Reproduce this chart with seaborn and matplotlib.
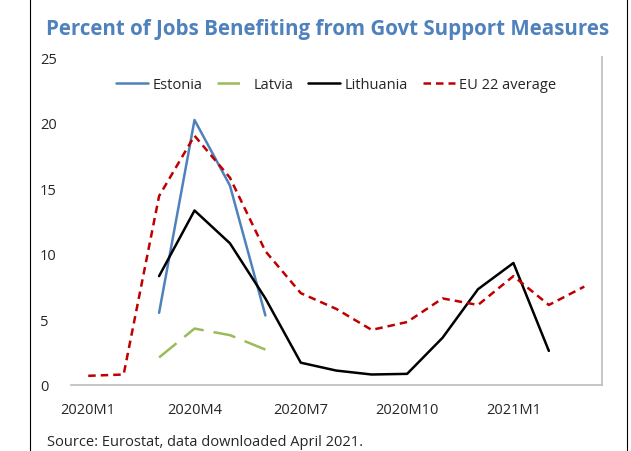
import matplotlib
matplotlib.use("Agg")
import matplotlib.pyplot as plt
import seaborn as sns
import pandas as pd
import numpy as np

months = ["2020M1","2020M2","2020M3","2020M4","2020M5","2020M6","2020M7","2020M8",
          "2020M9","2020M10","2020M11","2020M12","2021M1","2021M2","2021M3"]
estonia = [np.nan, np.nan, 5.5, 20.2, 15.2, 5.3] + [np.nan]*9
latvia = [np.nan, np.nan, 2.1, 4.3, 3.8, 2.7] + [np.nan]*9
lithuania = [np.nan, np.nan, 8.3, 13.3, 10.8, 6.6, 1.7, 1.1, 0.8, 0.85, 3.6, 7.3, 9.3, 2.6, np.nan]
eu22 = [0.7, 0.8, 14.4, 19.0, 15.8, 10.2, 7.0, 5.8, 4.2, 4.8, 6.6, 6.1, 8.3, 6.1, 7.5]

sns.set_theme(style="white")
plt.rcParams['font.family'] = ['Open Sans', 'DejaVu Sans']
fig = plt.figure(figsize=(6.31, 4.52), dpi=100)
ax = fig.add_axes([70.5/631, (452-386)/452, (602-70.5)/631, (386-58)/452])

x = np.arange(len(months))
df = pd.DataFrame({"x": x, "Estonia": estonia, "Latvia": latvia,
                   "Lithuania": lithuania, "EU 22 average": eu22})
sns.lineplot(data=df, x="x", y="Estonia", ax=ax, color="#4f81bd", lw=1.8, label="Estonia")
sns.lineplot(data=df, x="x", y="Latvia", ax=ax, color="#9bbb59", lw=1.8, label="Latvia", linestyle="--")
sns.lineplot(data=df, x="x", y="Lithuania", ax=ax, color="black", lw=1.8, label="Lithuania")
sns.lineplot(data=df, x="x", y="EU 22 average", ax=ax, color="#c00000", lw=1.8, label="EU 22 average", linestyle="--")
ax.lines[1].set_dashes((9, 4))
ax.lines[3].set_dashes((3, 2))

ax.set_xlim(-0.5, len(months) - 0.5)
ax.set_ylim(0, 25)
ax.set_yticks([0, 5, 10, 15, 20, 25])
ax.set_xticks(x[::3])
ax.set_xticklabels(months[::3])
ax.set_xticks(np.arange(2.5, 15, 3), minor=True)
ax.tick_params(axis="x", which="major", length=0, pad=12, labelsize=10.5)
ax.tick_params(axis="x", which="minor", length=5, color="#bfbfbf", direction="in")
ax.tick_params(axis="y", length=0, labelsize=10.5, pad=22)
for lab in ax.get_yticklabels():
    lab.set_horizontalalignment("left")
ax.set_xlabel(""); ax.set_ylabel("")
for s in ax.spines.values():
    s.set_visible(False)
ax.spines["bottom"].set_visible(True)
ax.spines["bottom"].set_color("#bfbfbf")
ax.spines["right"].set_visible(True)
ax.spines["right"].set_color("#bfbfbf")

leg = ax.legend(loc="upper center", ncol=4, frameon=False, fontsize=10.5,
                bbox_to_anchor=(0.5, 0.98), handlelength=2.2, columnspacing=1.0, handletextpad=0.3)
for h in leg.get_lines():
    pass

fig.text(328/631, 1-30/452, "Percent of Jobs Benefiting from Govt Support Measures",
         ha="center", va="center", fontsize=14.8, fontweight="bold", color="#4f81bd")
fig.text(47/631, 1-443/452, "Source: Eurostat, data downloaded April 2021.",
         ha="left", va="center", fontsize=10.5)
fig.add_artist(plt.Line2D([30/631, 30/631], [0, 1], color="black", lw=0.8))
fig.add_artist(plt.Line2D([627/631, 627/631], [0, 1], color="black", lw=0.8))
fig.savefig("out.png", dpi=100)
